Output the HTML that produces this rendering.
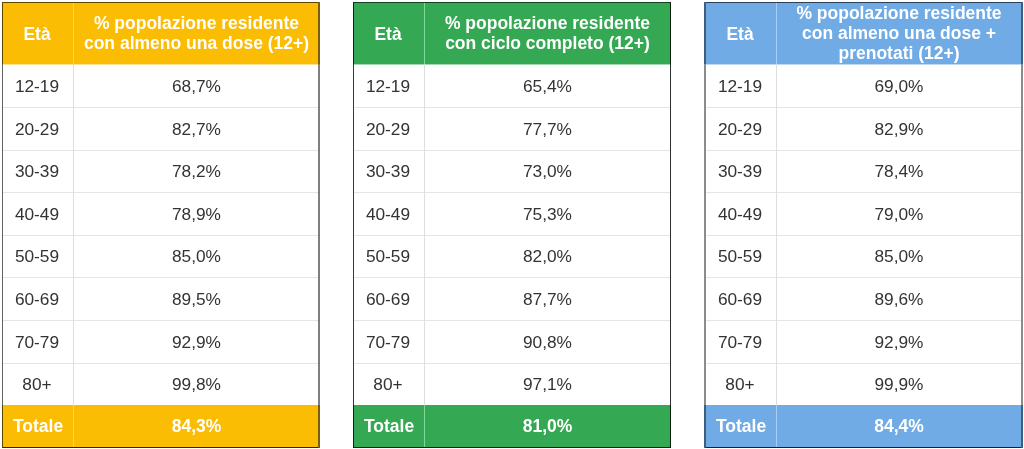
<!DOCTYPE html><html lang="it"><head><meta charset="utf-8"><title>Vaccinazioni per età</title><style>
html,body{margin:0;padding:0;background:#fff;}
body{width:1024px;height:449px;position:relative;overflow:hidden;font-family:"Liberation Sans",Arial,sans-serif;}
.t{position:absolute;top:2px;height:446px;box-sizing:border-box;border:1px solid transparent;background:#fff;}
.c{position:absolute;display:flex;align-items:center;justify-content:center;text-align:center;box-sizing:border-box;}
.h{color:#fff;font-weight:bold;font-size:17.5px;line-height:20px;}
.h2{padding-bottom:2px;}
.c1{padding-right:2px;}
.b{color:#333;font-size:17.3px;padding-top:1px;}
.f{color:#fff;font-weight:bold;font-size:17.5px;padding-top:1px;}
.e{position:absolute;}
.hl{position:absolute;left:0;right:0;height:1px;background:#e5e5e5;}
.vl{position:absolute;width:1px;left:70px;}
</style></head><body>
<div class="t" style="left:2px;width:318px">
<div class="c" style="left:-1px;top:-1px;width:318px;height:62px;background:#fbbc04"></div>
<div class="c h c1" style="left:0;top:0;width:70px;height:61px;padding-top:1px">Età</div>
<div class="c h h2" style="left:71px;top:0;width:245px;height:61px"><span>% popolazione residente<br>con almeno una dose (12+)</span></div>
<div class="e" style="left:0;top:61px;width:316px;height:1px;background:#fbbc04;opacity:.45"></div>
<div class="c b c1" style="left:0;top:61px;width:70px;height:43px">12-19</div>
<div class="c b" style="left:71px;top:61px;width:245px;height:43px">68,7%</div>
<div class="c b c1" style="left:0;top:104px;width:70px;height:43px">20-29</div>
<div class="c b" style="left:71px;top:104px;width:245px;height:43px">82,7%</div>
<div class="hl" style="top:104px"></div>
<div class="c b c1" style="left:0;top:147px;width:70px;height:42px">30-39</div>
<div class="c b" style="left:71px;top:147px;width:245px;height:42px">78,2%</div>
<div class="hl" style="top:147px"></div>
<div class="c b c1" style="left:0;top:189px;width:70px;height:43px">40-49</div>
<div class="c b" style="left:71px;top:189px;width:245px;height:43px">78,9%</div>
<div class="hl" style="top:189px"></div>
<div class="c b c1" style="left:0;top:232px;width:70px;height:42px">50-59</div>
<div class="c b" style="left:71px;top:232px;width:245px;height:42px">85,0%</div>
<div class="hl" style="top:232px"></div>
<div class="c b c1" style="left:0;top:274px;width:70px;height:43px">60-69</div>
<div class="c b" style="left:71px;top:274px;width:245px;height:43px">89,5%</div>
<div class="hl" style="top:274px"></div>
<div class="c b c1" style="left:0;top:317px;width:70px;height:43px">70-79</div>
<div class="c b" style="left:71px;top:317px;width:245px;height:43px">92,9%</div>
<div class="hl" style="top:317px"></div>
<div class="c b c1" style="left:0;top:360px;width:70px;height:42px">80+</div>
<div class="c b" style="left:71px;top:360px;width:245px;height:42px">99,8%</div>
<div class="hl" style="top:360px"></div>
<div class="c" style="left:-1px;top:402px;width:318px;height:43px;background:#fbbc04"></div>
<div class="c f" style="left:0;top:402px;width:70px;height:42px">Totale</div>
<div class="c f" style="left:71px;top:402px;width:245px;height:42px">84,3%</div>
<div class="vl" style="top:0;height:61px;background:#fdd25a"></div>
<div class="vl" style="top:61px;height:341px;background:#dedede"></div>
<div class="vl" style="top:402px;height:42px;background:#fdd25a"></div>
<div class="e" style="left:-1px;top:-1px;width:1px;height:446px;background:rgba(0,0,0,0.62)"></div>
<div class="e" style="left:315px;top:-1px;width:2px;height:446px;background:rgba(0,0,0,0.5)"></div>
<div class="e" style="left:0px;top:-1px;width:315px;height:1px;background:rgba(0,0,0,.62)"></div>
<div class="e" style="left:0px;top:444px;width:315px;height:1px;background:rgba(0,0,0,.8)"></div>
</div>
<div class="t" style="left:353px;width:318px">
<div class="c" style="left:-1px;top:-1px;width:318px;height:62px;background:#34a853"></div>
<div class="c h c1" style="left:0;top:0;width:70px;height:61px;padding-top:1px">Età</div>
<div class="c h h2" style="left:71px;top:0;width:245px;height:61px"><span>% popolazione residente<br>con ciclo completo (12+)</span></div>
<div class="e" style="left:0;top:61px;width:316px;height:1px;background:#34a853;opacity:.45"></div>
<div class="c b c1" style="left:0;top:61px;width:70px;height:43px">12-19</div>
<div class="c b" style="left:71px;top:61px;width:245px;height:43px">65,4%</div>
<div class="c b c1" style="left:0;top:104px;width:70px;height:43px">20-29</div>
<div class="c b" style="left:71px;top:104px;width:245px;height:43px">77,7%</div>
<div class="hl" style="top:104px"></div>
<div class="c b c1" style="left:0;top:147px;width:70px;height:42px">30-39</div>
<div class="c b" style="left:71px;top:147px;width:245px;height:42px">73,0%</div>
<div class="hl" style="top:147px"></div>
<div class="c b c1" style="left:0;top:189px;width:70px;height:43px">40-49</div>
<div class="c b" style="left:71px;top:189px;width:245px;height:43px">75,3%</div>
<div class="hl" style="top:189px"></div>
<div class="c b c1" style="left:0;top:232px;width:70px;height:42px">50-59</div>
<div class="c b" style="left:71px;top:232px;width:245px;height:42px">82,0%</div>
<div class="hl" style="top:232px"></div>
<div class="c b c1" style="left:0;top:274px;width:70px;height:43px">60-69</div>
<div class="c b" style="left:71px;top:274px;width:245px;height:43px">87,7%</div>
<div class="hl" style="top:274px"></div>
<div class="c b c1" style="left:0;top:317px;width:70px;height:43px">70-79</div>
<div class="c b" style="left:71px;top:317px;width:245px;height:43px">90,8%</div>
<div class="hl" style="top:317px"></div>
<div class="c b c1" style="left:0;top:360px;width:70px;height:42px">80+</div>
<div class="c b" style="left:71px;top:360px;width:245px;height:42px">97,1%</div>
<div class="hl" style="top:360px"></div>
<div class="c" style="left:-1px;top:402px;width:318px;height:43px;background:#34a853"></div>
<div class="c f" style="left:0;top:402px;width:70px;height:42px">Totale</div>
<div class="c f" style="left:71px;top:402px;width:245px;height:42px">81,0%</div>
<div class="vl" style="top:0;height:61px;background:#7fd895"></div>
<div class="vl" style="top:61px;height:341px;background:#dedede"></div>
<div class="vl" style="top:402px;height:42px;background:#7fd895"></div>
<div class="e" style="left:-1px;top:-1px;width:1px;height:446px;background:rgba(0,0,0,0.78)"></div>
<div class="e" style="left:316px;top:-1px;width:1px;height:446px;background:rgba(0,0,0,0.82)"></div>
<div class="e" style="left:0px;top:-1px;width:316px;height:1px;background:rgba(0,0,0,.62)"></div>
<div class="e" style="left:0px;top:444px;width:316px;height:1px;background:rgba(0,0,0,.8)"></div>
</div>
<div class="t" style="left:705px;width:317px">
<div class="c" style="left:-2px;top:-1px;width:319px;height:62px;background:#70abe6"></div>
<div class="c h c1" style="left:0;top:0;width:70px;height:61px;padding-top:1px">Età</div>
<div class="c h h2" style="left:71px;top:0;width:244px;height:61px"><span>% popolazione residente<br>con almeno una dose +<br>prenotati (12+)</span></div>
<div class="e" style="left:0;top:61px;width:315px;height:1px;background:#70abe6;opacity:.45"></div>
<div class="c b c1" style="left:0;top:61px;width:70px;height:43px">12-19</div>
<div class="c b" style="left:71px;top:61px;width:244px;height:43px">69,0%</div>
<div class="c b c1" style="left:0;top:104px;width:70px;height:43px">20-29</div>
<div class="c b" style="left:71px;top:104px;width:244px;height:43px">82,9%</div>
<div class="hl" style="top:104px"></div>
<div class="c b c1" style="left:0;top:147px;width:70px;height:42px">30-39</div>
<div class="c b" style="left:71px;top:147px;width:244px;height:42px">78,4%</div>
<div class="hl" style="top:147px"></div>
<div class="c b c1" style="left:0;top:189px;width:70px;height:43px">40-49</div>
<div class="c b" style="left:71px;top:189px;width:244px;height:43px">79,0%</div>
<div class="hl" style="top:189px"></div>
<div class="c b c1" style="left:0;top:232px;width:70px;height:42px">50-59</div>
<div class="c b" style="left:71px;top:232px;width:244px;height:42px">85,0%</div>
<div class="hl" style="top:232px"></div>
<div class="c b c1" style="left:0;top:274px;width:70px;height:43px">60-69</div>
<div class="c b" style="left:71px;top:274px;width:244px;height:43px">89,6%</div>
<div class="hl" style="top:274px"></div>
<div class="c b c1" style="left:0;top:317px;width:70px;height:43px">70-79</div>
<div class="c b" style="left:71px;top:317px;width:244px;height:43px">92,9%</div>
<div class="hl" style="top:317px"></div>
<div class="c b c1" style="left:0;top:360px;width:70px;height:42px">80+</div>
<div class="c b" style="left:71px;top:360px;width:244px;height:42px">99,9%</div>
<div class="hl" style="top:360px"></div>
<div class="c" style="left:-2px;top:402px;width:319px;height:43px;background:#70abe6"></div>
<div class="c f" style="left:0;top:402px;width:70px;height:42px">Totale</div>
<div class="c f" style="left:71px;top:402px;width:244px;height:42px">84,4%</div>
<div class="vl" style="top:0;height:61px;background:#a6cdf6"></div>
<div class="vl" style="top:61px;height:341px;background:#dedede"></div>
<div class="vl" style="top:402px;height:42px;background:#a6cdf6"></div>
<div class="e" style="left:-2px;top:-1px;width:2px;height:446px;background:rgba(0,0,0,0.45)"></div>
<div class="e" style="left:315px;top:-1px;width:2px;height:446px;background:rgba(0,0,0,0.45)"></div>
<div class="e" style="left:0px;top:-1px;width:315px;height:1px;background:rgba(0,0,0,.62)"></div>
<div class="e" style="left:0px;top:444px;width:315px;height:1px;background:rgba(0,0,0,.8)"></div>
</div>
</body></html>
